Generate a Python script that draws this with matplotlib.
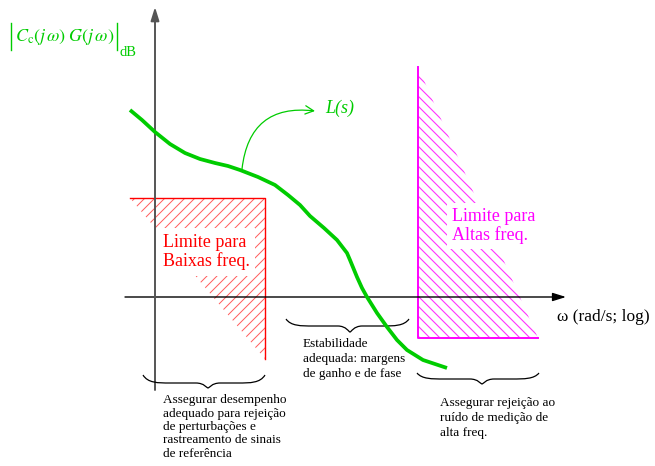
import numpy as np
import matplotlib
matplotlib.use("Agg")
import matplotlib.pyplot as plt
from matplotlib.patches import Polygon, FancyArrowPatch, PathPatch
from matplotlib.path import Path

plt.rcParams['font.family'] = ['Liberation Serif', 'DejaVu Serif']
plt.rcParams['mathtext.fontset'] = 'stix'

# ---- data (diagram coordinates: x = log-frequency position, y = magnitude position; y grows downward) ----
curve_x = [130, 142, 155, 170, 185, 200, 215, 228, 240, 258, 275, 288, 300, 310, 324,
           337, 347, 350, 357, 362, 367, 377, 387, 397, 407, 423, 435, 447]
curve_y = [110, 120, 132, 144, 153, 159, 163, 166, 170, 177, 185, 195, 205, 216, 228,
           240, 253, 260, 277, 288, 297, 313, 327, 340, 350, 360, 364, 368]

low_freq_bound_x = [130, 265, 265]
low_freq_bound_y = [198, 198, 359]
high_freq_bound_x = [418, 418, 538]
high_freq_bound_y = [67, 338, 338]

axis_origin = (155, 297)
x_axis_range = (125, 566)
y_axis_range = (390, 7)

brace_specs = [  # (x_left, x_right, y_end, y_flat, y_tip, x_tip)
    (143, 265, 375, 383, 388, 208),
    (286, 409, 319, 326, 332, 350),
    (417, 539, 373, 379, 384, 482),
]

ylabel_text = r'$C_{\mathrm{c}}(j\,\omega)\;G(j\,\omega)$'
ylabel_sub = 'dB'
xlabel_text = 'ω (rad/s; log)'
low_label = 'Limite para\nBaixas freq.'
high_label = 'Limite para\nAltas freq.'
loop_label = 'L(s)'
note_low = 'Assegurar desempenho\nadequado para rejeição\nde perturbações e\nrastreamento de sinais\nde referência'
note_mid = 'Estabilidade\nadequada: margens\nde ganho e de fase'
note_high = 'Assegurar rejeição ao\nruído de medição de\nalta freq.'

GREEN = '#00cc00'
RED = '#ff0000'
MAG = '#ff00ff'

fig = plt.figure(figsize=(6.55, 4.66), dpi=100)
ax = fig.add_axes([0, 0, 1, 1])
ax.set_xlim(0, 655)
ax.set_ylim(466, 0)
ax.axis('off')


def hatch_region(xs, ys, color, direction, spacing, lw):
    poly = Polygon(list(zip(xs, ys)), closed=True, facecolor='none', edgecolor='none')
    ax.add_patch(poly)
    x0, x1 = min(xs), max(xs)
    y0, y1 = min(ys), max(ys)
    span = (x1 - x0) + (y1 - y0)
    for c in np.arange(-span, span + spacing, spacing):
        lx = np.array([x0 - 5, x1 + 5])
        if direction == '/':
            ly = y1 - (lx - x0) + c
        else:
            ly = y0 + (lx - x0) + c
        ln, = ax.plot(lx, ly, color=color, lw=lw, zorder=1)
        ln.set_clip_path(poly)


hatch_region(low_freq_bound_x, low_freq_bound_y, '#ff5a5a', '/', 10, 0.7)
ax.plot(low_freq_bound_x, low_freq_bound_y, color=RED, lw=1.0, zorder=2)

hatch_region(high_freq_bound_x, high_freq_bound_y, '#ff33ff', '\\', 10, 0.8)
ax.plot(high_freq_bound_x, high_freq_bound_y, color=MAG, lw=1.4, zorder=2)

# axes arrows
ax.annotate('', xy=(x_axis_range[1], axis_origin[1]), xytext=(x_axis_range[0], axis_origin[1]),
            arrowprops=dict(arrowstyle='-|>,head_length=0.8,head_width=0.25', color='black',
                            lw=1.0, shrinkA=0, shrinkB=0), zorder=3)
ax.annotate('', xy=(axis_origin[0], y_axis_range[1]), xytext=(axis_origin[0], y_axis_range[0]),
            arrowprops=dict(arrowstyle='-|>,head_length=0.8,head_width=0.25', color='#555555',
                            lw=1.4, shrinkA=0, shrinkB=0), zorder=3)

# texts in regions
ax.text(163, 252, low_label, color=RED, fontsize=13, va='center', ha='left', linespacing=1.1,
        bbox=dict(facecolor='white', edgecolor='none', boxstyle='square,pad=0.3'), zorder=4)
ax.text(452, 226, high_label, color=MAG, fontsize=13, va='center', ha='left', linespacing=1.1,
        bbox=dict(facecolor='white', edgecolor='none', boxstyle='square,pad=0.25'), zorder=4)

# loop curve
ax.plot(curve_x, curve_y, color=GREEN, lw=2.7, solid_capstyle='butt', zorder=5)

# L(s) annotation
arr = FancyArrowPatch((242, 169), (315, 111), connectionstyle='arc3,rad=-0.5',
                      arrowstyle='->,head_length=6,head_width=3', color=GREEN, lw=0.9,
                      shrinkA=0, shrinkB=0, zorder=5)
ax.add_patch(arr)
ax.text(325, 108, loop_label, color=GREEN, fontsize=13, style='italic', va='center', ha='left')

# magnitude axis label
ax.plot([11, 11], [23, 50], color=GREEN, lw=1.0)
ax.plot([117, 117], [23, 50], color=GREEN, lw=1.0)
ax.text(15, 37, ylabel_text, color=GREEN, fontsize=13, va='center', ha='left')
ax.text(120, 52, ylabel_sub, color=GREEN, fontsize=10.5, va='center', ha='left')
ax.text(557, 317, xlabel_text, color='black', fontsize=12.5, va='center', ha='left')

# braces
def brace(xl, xr, ye, yf, yt, xt):
    w = xr - xl
    verts = [(xl, ye), (xl + 0.04 * w, yf), (xl + 0.12 * w, yf), (xl + 0.22 * w, yf),
             (xt - 0.1 * w, yf),
             (xt - 0.03 * w, yf), (xt - 0.01 * w, yt), (xt, yt),
             (xt + 0.01 * w, yt), (xt + 0.03 * w, yf), (xt + 0.1 * w, yf),
             (xr - 0.22 * w, yf),
             (xr - 0.12 * w, yf), (xr - 0.04 * w, yf), (xr, ye)]
    codes = [Path.MOVETO, Path.CURVE4, Path.CURVE4, Path.CURVE4,
             Path.LINETO,
             Path.CURVE4, Path.CURVE4, Path.CURVE4,
             Path.CURVE4, Path.CURVE4, Path.CURVE4,
             Path.LINETO,
             Path.CURVE4, Path.CURVE4, Path.CURVE4]
    ax.add_patch(PathPatch(Path(verts, codes), facecolor='none', edgecolor='black', lw=0.9, zorder=3))


for spec in brace_specs:
    brace(*spec)

# notes
ax.text(303, 359, note_mid, fontsize=9.5, va='center', ha='left', linespacing=1.3)
ax.text(163, 427, note_low, fontsize=9.5, va='center', ha='left', linespacing=1.15)
ax.text(440, 418, note_high, fontsize=9.5, va='center', ha='left', linespacing=1.3)

fig.savefig('out.png', dpi=100)
